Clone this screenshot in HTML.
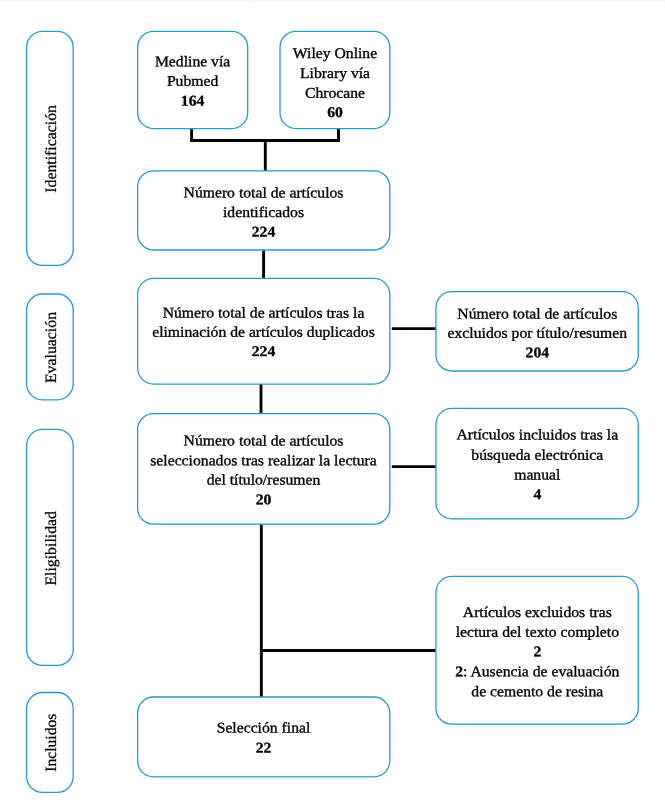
<!DOCTYPE html>
<html lang="es">
<head>
<meta charset="utf-8">
<title>Diagrama de flujo</title>
<style>
html,body{margin:0;padding:0;background:#fff;}
body{width:665px;height:804px;overflow:hidden;position:relative;}
svg{position:absolute;left:0;top:0;display:block;will-change:transform;}
.bx{fill:#fff;stroke:#2499d2;stroke-width:1.3;}
.ln{stroke:#000;stroke-width:2.9;fill:none;}
text{font-family:"Liberation Serif","Times New Roman",serif;font-size:15.7px;fill:#000;text-anchor:middle;stroke:#000;stroke-width:0.35px;text-rendering:geometricPrecision;}
.b{font-weight:bold;stroke-width:0.3px;}
.side{font-size:15.8px;stroke-width:0.25px;}
</style>
</head>
<body>
<svg width="665" height="804" viewBox="0 0 665 804">
<defs>
<linearGradient id="tg" x1="0" y1="0" x2="0" y2="1"><stop offset="0" stop-color="#f5f5f5"/><stop offset="1" stop-color="#ffffff"/></linearGradient>
</defs>
<rect x="0" y="0" width="665" height="3.2" fill="url(#tg)"/>

<!-- connectors -->
<path class="ln" d="M191.6 128.2 V140.45 H338.5 V128.2"/>
<path class="ln" d="M265.3 140.45 V171"/>
<path class="ln" d="M263.6 250.4 V278.4"/>
<path class="ln" d="M261 384 V413.6"/>
<path class="ln" d="M261.35 524 V697"/>
<path class="ln" d="M391.8 328.6 H436.3"/>
<path class="ln" d="M391.8 466.6 H436.4"/>
<path class="ln" d="M261.35 650.5 H436.4"/>
<!-- side labels -->
<rect class="bx" x="26.6" y="31.3" width="46.6" height="234.1" rx="16" ry="16"/>
<rect class="bx" x="26.6" y="294" width="46.6" height="105.8" rx="16" ry="16"/>
<rect class="bx" x="26.6" y="429.4" width="46.6" height="236" rx="16" ry="16"/>
<rect class="bx" x="26.6" y="692.5" width="46.6" height="99.9" rx="16" ry="16"/>
<text class="side" transform="translate(56.1 148.9) rotate(-90)">Identificación</text>
<text class="side" transform="translate(56.1 347.5) rotate(-90)">Evaluación</text>
<text class="side" transform="translate(56.1 548.3) rotate(-90)">Eligibilidad</text>
<text class="side" style="font-size:15.6px" transform="translate(56.1 742.65) rotate(-90)">Incluidos</text>
<!-- top boxes -->
<rect class="bx" x="137.6" y="31.3" width="110.1" height="97.3" rx="16" ry="16"/>
<text transform="translate(192.6 66.3) rotate(0.03) scale(1 0.94)">Medline vía</text>
<text transform="translate(192.6 85.8) rotate(0.03) scale(1 0.94)">Pubmed</text>
<text class="b" transform="translate(192.6 105.5) rotate(0.03) scale(1 0.94)">164</text>
<rect class="bx" x="280" y="31.3" width="109.8" height="97.3" rx="16" ry="16"/>
<text transform="translate(335 57.9) rotate(0.03) scale(1 0.94)">Wiley Online</text>
<text transform="translate(335 77.9) rotate(0.03) scale(1 0.94)">Library vía</text>
<text transform="translate(335 97.7) rotate(0.03) scale(1 0.94)">Chrocane</text>
<text class="b" transform="translate(335 117) rotate(0.03) scale(1 0.94)">60</text>
<!-- main column -->
<rect class="bx" x="137.6" y="170.8" width="252.2" height="79.2" rx="16" ry="16"/>
<text transform="translate(263.5 197.4) rotate(0.03) scale(1 0.94)">Número total de artículos</text>
<text transform="translate(263.5 217) rotate(0.03) scale(1 0.94)">identificados</text>
<text class="b" transform="translate(263.5 236.4) rotate(0.03) scale(1 0.94)">224</text>
<rect class="bx" x="137.6" y="278.4" width="252.2" height="105.7" rx="16" ry="16"/>
<text transform="translate(263.5 317.6) rotate(0.03) scale(1 0.94)">Número total de artículos tras la</text>
<text transform="translate(263.5 336.8) rotate(0.03) scale(1 0.94)">eliminación de artículos duplicados</text>
<text class="b" transform="translate(263.5 356) rotate(0.03) scale(1 0.94)">224</text>
<rect class="bx" x="137.6" y="413.6" width="252.2" height="110.6" rx="16" ry="16"/>
<text transform="translate(263.5 445.4) rotate(0.03) scale(1 0.94)">Número total de artículos</text>
<text transform="translate(263.5 465.2) rotate(0.03) scale(1 0.94)">seleccionados tras realizar la lectura</text>
<text transform="translate(263.5 484.6) rotate(0.03) scale(1 0.94)">del título/resumen</text>
<text class="b" transform="translate(263.5 504.3) rotate(0.03) scale(1 0.94)">20</text>
<rect class="bx" x="137.6" y="697" width="252.2" height="79.8" rx="16" ry="16"/>
<text transform="translate(263.5 732.6) rotate(0.03) scale(1 0.94)">Selección final</text>
<text class="b" transform="translate(263.5 752.6) rotate(0.03) scale(1 0.94)">22</text>
<!-- right column -->
<rect class="bx" x="435.9" y="291.7" width="202.4" height="79.3" rx="16" ry="16"/>
<text transform="translate(537.3 318.6) rotate(0.03) scale(1 0.94)">Número total de artículos</text>
<text transform="translate(537.3 337.7) rotate(0.03) scale(1 0.94)">excluidos por título/resumen</text>
<text class="b" transform="translate(537.3 357.2) rotate(0.03) scale(1 0.94)">204</text>
<rect class="bx" x="435.9" y="408.4" width="202.4" height="110.4" rx="16" ry="16"/>
<text transform="translate(537.3 439.4) rotate(0.03) scale(1 0.94)">Artículos incluidos tras la</text>
<text transform="translate(537.3 459.7) rotate(0.03) scale(1 0.94)">búsqueda electrónica</text>
<text transform="translate(537.3 479.6) rotate(0.03) scale(1 0.94)">manual</text>
<text class="b" transform="translate(537.3 499) rotate(0.03) scale(1 0.94)">4</text>
<rect class="bx" x="435.9" y="576.4" width="202.4" height="147.8" rx="16" ry="16"/>
<text transform="translate(537.3 617) rotate(0.03) scale(1 0.94)">Artículos excluidos tras</text>
<text transform="translate(537.3 636.8) rotate(0.03) scale(1 0.94)">lectura del texto completo</text>
<text class="b" transform="translate(537.3 656.2) rotate(0.03) scale(1 0.94)">2</text>
<text transform="translate(537.3 676.3) rotate(0.03) scale(1 0.94)"><tspan class="b">2</tspan>: Ausencia de evaluación</text>
<text transform="translate(537.3 696.2) rotate(0.03) scale(1 0.94)">de cemento de resina</text>
</svg>
</body>
</html>
